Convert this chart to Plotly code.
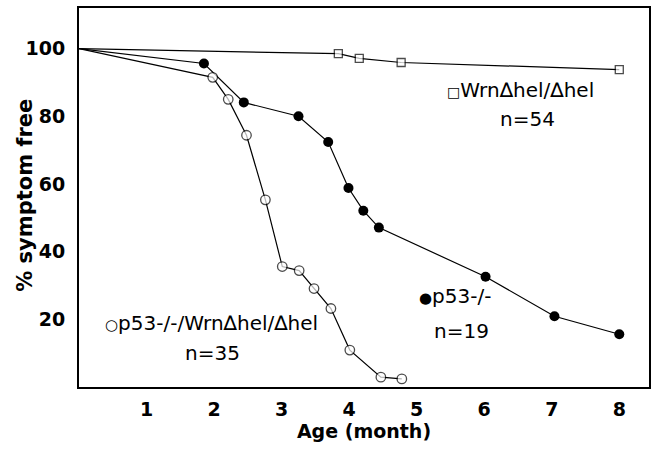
import plotly.graph_objects as go

# Wrn del-hel / del-hel (open squares)
wrn_x = [0, 3.84, 4.15, 4.77, 8.0]
wrn_y = [100, 98.5, 97.1, 95.9, 93.8]

# p53-/- (filled circles)
p53_x = [0, 1.85, 2.44, 3.25, 3.69, 3.99, 4.21, 4.44, 6.02, 7.04, 8.0]
p53_y = [100, 95.6, 84.1, 80.0, 72.4, 58.8, 52.1, 47.1, 32.6, 20.9, 15.6]

# p53-/-/Wrn (open circles)
dbl_x = [0, 1.98, 2.21, 2.48, 2.76, 3.01, 3.26, 3.48, 3.73, 4.01, 4.47, 4.78]
dbl_y = [100, 91.5, 85.0, 74.4, 55.3, 35.6, 34.4, 29.1, 23.2, 10.9, 2.9, 2.4]

x_ticks = [1, 2, 3, 4, 5, 6, 7, 8]
y_ticks = [20, 40, 60, 80, 100]

FONT = "DejaVu Sans, Liberation Sans, Arial, sans-serif"


def sizes(n, s):
    return [0] + [s] * (n - 1)


def sym(ch, px):
    return '<span style="font-size:%dpx">%s</span>' % (px, ch)


fig = go.Figure()
fig.add_trace(go.Scatter(
    x=wrn_x, y=wrn_y, mode="lines+markers",
    line=dict(color="black", width=1.2),
    marker=dict(symbol="square", size=sizes(len(wrn_x), 8), color="white",
                line=dict(width=1.3, color="black")),
    showlegend=False))
fig.add_trace(go.Scatter(
    x=p53_x, y=p53_y, mode="lines+markers",
    line=dict(color="black", width=1.2),
    marker=dict(symbol="circle", size=sizes(len(p53_x), 10), color="black",
                opacity=1, line=dict(width=0, color="black")),
    showlegend=False))
fig.add_trace(go.Scatter(
    x=dbl_x, y=dbl_y, mode="lines+markers",
    line=dict(color="black", width=1.2),
    marker=dict(symbol="circle", size=sizes(len(dbl_x), 9.5), color="white",
                line=dict(width=1.3, color="black")),
    showlegend=False))

ann_font = dict(family=FONT, size=20, color="black")
annotations = [
    dict(x=6.54, y=87.9, text=sym("\u25a1", 14) + "Wrn\u2206hel/\u2206hel"),
    dict(x=6.64, y=79.1, text="n=54"),
    dict(x=5.56, y=26.8, text=sym("\u25cf", 15) + "p53-/-"),
    dict(x=5.67, y=16.5, text="n=19"),
    dict(x=1.96, y=18.8, text=sym("\u25cb", 15) + "p53-/-/Wrn\u2206hel/\u2206hel"),
    dict(x=1.98, y=10.0, text="n=35"),
]
for a in annotations:
    a.update(xref="x", yref="y", showarrow=False, font=ann_font)

# y-axis title placed as rotated text beside the tick labels
annotations.append(dict(
    xref="paper", yref="paper", x=-0.0962, y=0.505, xanchor="center", yanchor="middle",
    text="% symptom free", textangle=-90, showarrow=False,
    font=dict(family=FONT, size=21, color="black", weight="bold")))

axis_font = dict(family=FONT, size=19, color="black", weight="bold")

fig.update_layout(
    width=657, height=449,
    margin=dict(l=79, r=6, t=7, b=62),
    paper_bgcolor="white", plot_bgcolor="white",
    annotations=annotations,
    font=dict(family=FONT, color="black"),
)
fig.update_xaxes(
    range=[0, 8.44], tickvals=x_ticks, ticktext=[str(v) for v in x_ticks],
    showgrid=False, zeroline=False, showline=True, linecolor="black", linewidth=2,
    mirror=True, ticks="", ticklabelstandoff=4,
    tickfont=axis_font,
    title=dict(text="Age (month)", standoff=6, font=axis_font),
)
fig.update_yaxes(
    range=[0, 112], tickvals=y_ticks, ticktext=[str(v) for v in y_ticks],
    showgrid=False, zeroline=False, showline=True, linecolor="black", linewidth=2,
    mirror=True, ticks="", ticklabelstandoff=8,
    tickfont=axis_font,
)

fig.write_html(
    "out.html",
    config={"displayModeBar": False},
    post_script="document.body.style.margin='0';document.body.style.overflow='hidden';",
)
